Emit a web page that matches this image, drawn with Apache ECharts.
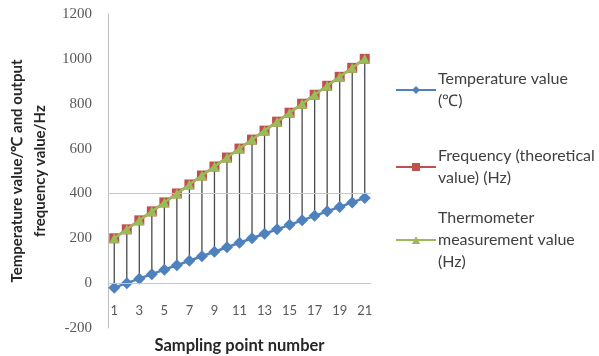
<!DOCTYPE html>
<html>
<head>
<meta charset="utf-8">
<script src="https://cdn.jsdelivr.net/npm/echarts@6/dist/echarts.min.js"></script>
<style>
  html, body { margin: 0; padding: 0; background: #fff; }
  #main { width: 599px; height: 356px; }
</style>
</head>
<body>
<div id="main"></div>
<script>
var samplePoints = ['1','2','3','4','5','6','7','8','9','10','11','12','13','14','15','16','17','18','19','20','21'];
var temperature = [-20,0,20,40,60,80,100,120,140,160,180,200,220,240,260,280,300,320,340,360,380];
var frequency = [200,240,280,320,360,400,440,480,520,560,600,640,680,720,760,800,840,880,920,960,1000];
var thermometer = [200,240,280,320,360,400,440,480,520,560,600,640,680,720,760,800,840,880,920,960,1000];
var yTicks = [-200, 1200, 200];

var chart = echarts.init(document.getElementById('main'), null, { renderer: 'canvas' });

// high-low lines between temperature and frequency
var dropData = samplePoints.map(function (c, i) {
  return [i, temperature[i], frequency[i]];
});

var LH = 22;
function legendAt(name, top, lines) {
  return {
    data: [name],
    orient: 'vertical',
    left: 395,
    top: top,
    padding: 0,
    itemWidth: 40,
    itemHeight: 10,
    selectedMode: false,
    textStyle: {
      fontFamily: 'Lato',
      fontSize: 16,
      color: '#404040',
      lineHeight: LH,
      padding: [(lines - 1) * LH, 0, 0, -3]
    }
  };
}

var option = {
  animation: false,
  textStyle: { fontFamily: 'Lato' },
  grid: { left: 108, top: 14, width: 263, height: 314, outerBoundsMode: 'none', containLabel: false },
  legend: [
    legendAt('Temperature value\n(℃)', 57, 2),
    legendAt('Frequency (theoretical\nvalue) (Hz)', 134, 2),
    legendAt('Thermometer\nmeasurement value\n(Hz)', 185, 3)
  ],
  xAxis: {
    type: 'category',
    data: samplePoints,
    boundaryGap: true,
    name: 'Sampling point number',
    nameLocation: 'middle',
    nameGap: 9,
    nameTextStyle: { fontFamily: 'Lato', fontWeight: 'bold', fontSize: 16.5, color: '#262626' },
    axisLine: { show: false, onZero: false },
    axisTick: { show: false },
    axisLabel: { interval: 1, margin: -24, fontFamily: 'Lato', fontSize: 13, color: '#595959' },
    splitLine: { show: false }
  },
  yAxis: {
    type: 'value',
    min: yTicks[0],
    max: yTicks[1],
    interval: yTicks[2],
    name: 'Temperature value/℃ and output\nfrequency value/Hz',
    nameLocation: 'middle',
    nameRotate: 90,
    nameGap: 56,
    nameTextStyle: { fontFamily: 'Lato', fontWeight: 'bold', fontSize: 15, color: '#262626', lineHeight: 23 },
    axisLine: { show: true, lineStyle: { color: '#bfbfbf', width: 1 } },
    axisTick: { show: false },
    axisLabel: {
      margin: 16,
      fontFamily: 'Liberation Serif',
      fontSize: 15,
      color: '#595959',
      formatter: function (v) { return String(v); }
    },
    splitLine: { show: false }
  },
  series: [
    {
      type: 'custom',
      name: 'drop',
      z: 1,
      silent: true,
      data: dropData,
      renderItem: function (params, api) {
        var a = api.coord([api.value(0), api.value(1)]);
        var b = api.coord([api.value(0), api.value(2)]);
        return {
          type: 'line',
          shape: { x1: a[0], y1: a[1], x2: b[0], y2: b[1] },
          style: { stroke: '#4a4a4a', lineWidth: 1.3 }
        };
      },
      markLine: {
        silent: true,
        symbol: 'none',
        label: { show: false },
        lineStyle: { color: '#c8c8c8', type: 'solid', width: 1 },
        data: [{ yAxis: 400 }, { yAxis: 0 }]
      }
    },
    {
      type: 'line',
      name: 'Temperature value\n(℃)',
      data: temperature,
      z: 3,
      showAllSymbol: true,
      symbol: 'diamond',
      symbolSize: 12,
      lineStyle: { color: '#4f81bd', width: 2.5 },
      itemStyle: { color: '#4f81bd' }
    },
    {
      type: 'line',
      name: 'Frequency (theoretical\nvalue) (Hz)',
      data: frequency,
      z: 4,
      showAllSymbol: true,
      symbol: 'rect',
      symbolSize: 10,
      lineStyle: { color: '#c0504d', width: 2.5 },
      itemStyle: { color: '#c0504d' }
    },
    {
      type: 'line',
      name: 'Thermometer\nmeasurement value\n(Hz)',
      data: thermometer,
      z: 5,
      showAllSymbol: true,
      symbol: 'triangle',
      symbolSize: 10,
      lineStyle: { color: '#9bbb59', width: 2.5 },
      itemStyle: { color: '#9bbb59' }
    }
  ]
};

chart.setOption(option);
</script>
</body>
</html>
